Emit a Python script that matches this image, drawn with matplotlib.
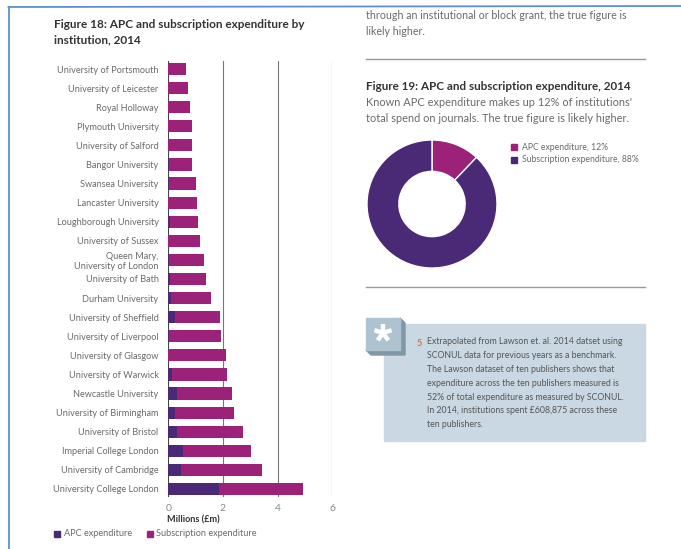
import matplotlib
matplotlib.use("Agg")
import math
import matplotlib.pyplot as plt
from matplotlib.patches import Rectangle, Polygon

plt.rcParams['font.family'] = ['Lato', 'DejaVu Sans']

# ---------------- data ----------------
institutions = [
    "University of Portsmouth", "University of Leicester", "Royal Holloway",
    "Plymouth University", "University of Salford", "Bangor University",
    "Swansea University", "Lancaster University", "Loughborough University",
    "University of Sussex", "Queen Mary,\nUniversity of London", "University of Bath",
    "Durham University", "University of Sheffield", "University of Liverpool",
    "University of Glasgow", "University of Warwick", "Newcastle University",
    "University of Birmingham", "University of Bristol", "Imperial College London",
    "University of Cambridge", "University College London",
]
apc = [0.0, 0.0, 0.0, 0.0, 0.0, 0.02, 0.02, 0.0, 0.05, 0.0, 0.03, 0.06,
       0.10, 0.24, 0.02, 0.0, 0.15, 0.33, 0.24, 0.32, 0.54, 0.46, 1.86]
total = [0.64, 0.72, 0.78, 0.86, 0.87, 0.88, 1.00, 1.06, 1.09, 1.15, 1.30, 1.39,
         1.56, 1.89, 1.93, 2.11, 2.16, 2.32, 2.42, 2.74, 3.03, 3.44, 4.91]
subscription = [t - a for t, a in zip(total, apc)]
x_ticks = [0, 2, 4, 6]

donut_labels = ["APC expenditure, 12%", "Subscription expenditure, 88%"]
donut_values = [12, 88]

PURPLE = "#4a2a76"
MAGENTA = "#9c2279"
GRAY_TXT = "#6a6a6a"
DARK_TXT = "#333333"

W, H = 681, 549
fig = plt.figure(figsize=(W / 100, H / 100), dpi=100)

def ax_px(x0, y0, x1, y1):
    return fig.add_axes([x0 / W, 1 - y1 / H, (x1 - x0) / W, (y1 - y0) / H])

# overlay for page decorations
ov = fig.add_axes([0, 0, 1, 1])
ov.set_xlim(0, W)
ov.set_ylim(H, 0)
ov.axis("off")

# blue frame
ov.plot([8.5, 8.5], [549, 7], color="#5b8fd8", lw=1.3)
ov.plot([8.5, 681], [7, 6], color="#5b8fd8", lw=1.3)

# Figure 18 title
ov.text(54, 19, "Figure 18: APC and subscription expenditure by\ninstitution, 2014",
        fontsize=8.5, fontweight="bold", color=DARK_TXT, va="top", ha="left",
        linespacing=1.45)

# ---------------- bar chart ----------------
ax = ax_px(168.3, 61, 332.3, 497)
n = len(institutions)
ypos = list(range(n))
ax.barh(ypos, apc, height=0.64, color=PURPLE, zorder=3)
ax.barh(ypos, subscription, left=apc, height=0.64, color=MAGENTA, zorder=3)
ax.set_xlim(0, 6)
ax.set_ylim(n - 1 + 0.42, -0.42)
for t in x_ticks:
    ax.axvline(t, color="#777777" if t else "#444444", lw=0.8, zorder=1)
for s in ax.spines.values():
    s.set_visible(False)
ax.set_xticks(x_ticks)
ax.set_xticklabels([str(t) for t in x_ticks], fontsize=7.5, color="#888888")
ax.tick_params(axis="x", length=0, pad=5)
ax.set_yticks(ypos)
ax.set_yticklabels(institutions, fontsize=6.6, color=GRAY_TXT, linespacing=1.15)
ax.tick_params(axis="y", length=0, pad=7)
ax.set_facecolor("none")

ov.text(167, 520, "Millions (£m)", fontsize=6.6, fontweight="bold", color=DARK_TXT,
        va="center", ha="left")
# legend
ov.add_patch(Rectangle((54, 531), 6, 6, color=PURPLE))
ov.text(64, 534, "APC expenditure", fontsize=6.6, color=GRAY_TXT, va="center")
ov.add_patch(Rectangle((147, 531), 6, 6, color=MAGENTA))
ov.text(156, 534, "Subscription expenditure", fontsize=6.6, color=GRAY_TXT, va="center")

# ---------------- right column ----------------
ov.text(366, 10, "through an institutional or block grant, the true figure is\nlikely higher.",
        fontsize=7.7, color=GRAY_TXT, va="top", ha="left", linespacing=1.6)
ov.plot([366, 645], [59, 59], color="#999999", lw=1.0)
ov.text(366, 87, "Figure 19: APC and subscription expenditure, 2014",
        fontsize=8.4, fontweight="bold", color=DARK_TXT, va="center", ha="left")
ov.text(366, 97, "Known APC expenditure makes up 12% of institutions'\ntotal spend on journals. The true figure is likely higher.",
        fontsize=7.9, color=GRAY_TXT, va="top", ha="left", linespacing=1.5)

# donut
dax = ax_px(367, 140, 497, 268)
dax.pie(donut_values, colors=[MAGENTA, PURPLE], startangle=90, counterclock=False,
        radius=1, wedgeprops=dict(width=0.49, edgecolor="white", linewidth=1.0))
dax.set_xlim(-1, 1)
dax.set_ylim(-1, 1)
dax.set_aspect("auto")
dax.axis("off")

ov.add_patch(Rectangle((511, 144), 6, 6, color=MAGENTA))
ov.text(522, 147, donut_labels[0], fontsize=6.2, color=GRAY_TXT, va="center")
ov.add_patch(Rectangle((511, 157), 6, 6, color=PURPLE))
ov.text(522, 160, donut_labels[1], fontsize=6.2, color=GRAY_TXT, va="center")

ov.plot([366, 645], [287, 287], color="#999999", lw=1.0)

# note box
ov.add_patch(Rectangle((384, 324), 261, 117, color="#c9d8e2", zorder=1))
# 3D icon
ov.add_patch(Polygon([(400, 318), (405, 323), (405, 355), (371, 355), (366, 350), (400, 350)],
                     closed=True, color="#7f97a6", zorder=2))
ov.add_patch(Rectangle((366, 318), 34, 32, color="#aec3d0", zorder=3))
cx, cy, r = 383, 333, 9
for k in range(5):
    ang = math.radians(90 + 72 * k)
    ov.plot([cx, cx + r * math.cos(ang)], [cy, cy - r * math.sin(ang)],
            color="white", lw=3.2, solid_capstyle="butt", zorder=4)
ov.text(417, 343, "5", fontsize=6.6, color="#e0703a", fontweight="bold", va="center", zorder=4)
note = ("Extrapolated from Lawson et. al. 2014 datset using\n"
        "SCONUL data for previous years as a benchmark.\n"
        "The Lawson dataset of ten publishers shows that\n"
        "expenditure across the ten publishers measured is\n"
        "52% of total expenditure as measured by SCONUL.\n"
        "In 2014, institutions spent £608,875 across these\n"
        "ten publishers.")
ov.text(427, 337.5, note, fontsize=6.3, color="#555555", va="top", ha="left",
        linespacing=1.68, zorder=4)

fig.savefig("out.png", dpi=100)
